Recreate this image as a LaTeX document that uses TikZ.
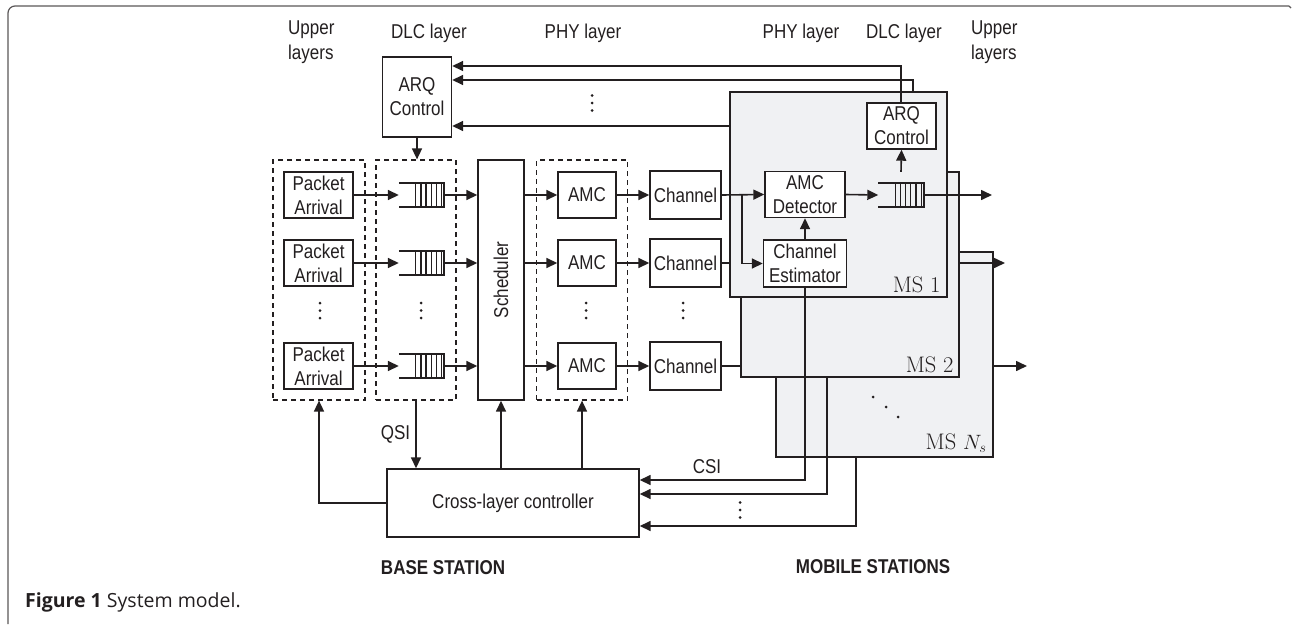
\documentclass[tikz,border=0pt]{standalone}
\usepackage{fontspec}
\usetikzlibrary{arrows.meta}
\newfontfamily\dfont[FakeStretch=0.85]{Liberation Sans}
\newfontfamily\capfont{Open Sans}
\definecolor{ink}{HTML}{231F20}
\definecolor{msfill}{HTML}{F0F1F3}
\newcommand\drawqueue[1]{%
  \draw[ink,line width=1.6pt] (#1.north west) -- (#1.north east) -- (#1.south east) -- (#1.south west);
  \foreach \k in {0,...,5}{\draw[ink,line width=1.3pt] ([xshift=-2.5pt-\k*5.2pt]#1.north east) -- ([xshift=-2.5pt-\k*5.2pt]#1.south east);}}
\newcommand\vdotsat[2]{\foreach \d in {-7.5,0,7.5}{\fill[ink] (#1,#2+\d) circle (1.5pt);}}
\begin{document}
\begin{tikzpicture}[x=1pt,y=-1pt,
  box/.style={draw=ink, line width=1.4pt, fill=white, inner sep=0pt, align=center, text=ink,
    font=\dfont\fontsize{20}{24}\selectfont},
  dbox/.style={draw=ink, line width=1.2pt, dash pattern=on 5pt off 4pt, inner sep=0pt},
  msbox/.style={draw=ink, line width=1.4pt, fill=msfill, inner sep=0pt},
  arr/.style={draw=ink, line width=1.6pt, -{Triangle[length=11pt,width=10pt]}},
  ln/.style={draw=ink, line width=1.6pt},
  lbl/.style={font=\dfont\fontsize{20}{25}\selectfont, text=ink, inner sep=0pt, align=center},
  blbl/.style={font=\dfont\bfseries\fontsize{20}{25}\selectfont, text=ink, inner sep=0pt},
  mslbl/.style={font=\fontsize{22.5}{26}\selectfont, text=ink, inner sep=0pt, anchor=base east},
  qnode/.style={minimum width=45pt, minimum height=24pt, inner sep=0pt}]
\useasboundingbox (0,0) rectangle (1292,624);
% frame
\draw[ink!75, line width=1.2pt, rounded corners=7pt] (8,624) -- (8,6) -- (1289,6);
\draw[ink!75, line width=1.2pt] (1289,6) -- (1291,8);
% layer labels
\node[lbl, align=left, anchor=north west] (ulL) at (288,21) {Upper\\layers};
\node[lbl] (dlcL) at (429,33) {DLC layer};
\node[lbl] (phyL) at (583,33) {PHY layer};
\node[lbl] (phyR) at (801,33) {PHY layer};
\node[lbl] (dlcR) at (904,33) {DLC layer};
\node[lbl, align=left, anchor=north west] (ulR) at (971,21) {Upper\\layers};
% base station dashed groups
\node[dbox, minimum width=92pt, minimum height=240pt] (d1) at (319,280) {};
\node[dbox, minimum width=80pt, minimum height=240pt] (d2) at (416,280) {};
\node[dbox, minimum width=91pt, minimum height=240pt] (d3) at (582,280) {};
\node[box, minimum width=46pt, minimum height=240pt] (sched) at (501,280) {};
\node[lbl, rotate=90] (schedT) at (501,280) {Scheduler};
\node[box, minimum width=69pt, minimum height=80pt] (arqbs) at (417,97) {ARQ\\Control};
% rows
\foreach \r/\y in {1/195,2/263,3/366}{
  \node[box, minimum width=69pt, minimum height=46pt] (pa\r) at (318.5,\y) {Packet\\Arrival};
  \node[qnode] (q\r) at (421.5,\y) {};
  \node[box, minimum width=58pt, minimum height=46pt] (amc\r) at (587,\y) {AMC};
  \node[box, minimum width=71pt, minimum height=48pt] (ch\r) at (685.5,\y) {Channel};
}
\foreach \r in {1,2,3}{
  \drawqueue{q\r}
  \draw[arr] (pa\r.east) -- (q\r.west);
  \draw[arr] (q\r.east) -- (q\r.east -| sched.west);
  \draw[arr] (amc\r.west -| sched.east) -- (amc\r.west);
  \draw[arr] (amc\r.east) -- (ch\r.west);
}
\vdotsat{320}{310.5}
\vdotsat{421}{310.5}
\vdotsat{586}{310.5}
\vdotsat{683}{310.5}
% controller
\node[box, minimum width=252pt, minimum height=68pt] (ctrl) at (513,503) {Cross-layer controller};
\draw[arr] (arqbs.south) -- (arqbs.south |- d2.north);
\draw[arr] (ctrl.west) -| (d1.south);
\draw[arr] (d2.south) -- node[lbl, left=5pt] (qsi) {QSI} (d2.south |- ctrl.north);
\draw[arr] (ctrl.north -| sched.south) -- (sched.south);
\draw[arr] (ctrl.north -| d3.south) -- (d3.south);
% mobile stations
\node[msbox, minimum width=217pt, minimum height=205pt] (msn) at (884.5,354.5) {};
\node[mslbl] (msnL) at ([xshift=-7pt,yshift=8pt]msn.south east) {MS $N_s$};
\node[msbox, minimum width=218pt, minimum height=205pt] (ms2) at (850,274.5) {};
\node[mslbl] (ms2L) at ([xshift=-6pt,yshift=5pt]ms2.south east) {MS 2};
\node[msbox, minimum width=217pt, minimum height=205pt] (ms1) at (838.5,194.5) {};
\node[mslbl] (ms1L) at ([xshift=-7pt,yshift=5pt]ms1.south east) {MS 1};
\foreach \x/\y in {873/397,886/407,898/417}{\fill[ink] (\x,\y) circle (1.5pt);}
\node[box, minimum width=80pt, minimum height=46pt] (amcdet) at (805,194.5) {AMC\\Detector};
\node[box, minimum width=83pt, minimum height=47pt] (chest) at (805,263.5) {Channel\\Estimator};
\node[box, minimum width=69pt, minimum height=46pt] (arqms) at (901.5,126) {ARQ\\Control};
\node[qnode] (qms) at (901,195) {};
\drawqueue{qms}
% channel to MS
\coordinate (br) at (742,195);
\draw[arr] (ch1.east) -- (amcdet.west);
\draw[arr] (br) |- (chest.west);
\draw[ln] (ch2.east) -- (ch2.east -| ms1.west);
\draw[ln] (ch3.east) -- (ch3.east -| ms2.west);
\draw[arr] (chest.north) -- (amcdet.south);
\draw[arr] (amcdet.east) -- (qms.west);
\draw[arr] ([yshift=11pt]qms.north) -- (arqms.south);
\coordinate (o1) at (992,195);
\coordinate (o2) at (1005,263);
\coordinate (o3) at (1027,366);
\draw[arr] (qms.east) -- (o1);
\draw[arr] (o2 -| ms2.east) -- (o2);
\draw[arr] (o3 -| msn.east) -- (o3);
% ARQ feedback
\coordinate (fb1) at (901,66);
\coordinate (fb2) at (913,80);
\coordinate (fb3) at (730,126);
\draw[arr] (fb1 |- arqms.north) -- (fb1) -- (fb1 -| arqbs.east);
\draw[arr] (fb2 |- ms1.north) -- (fb2) -- (fb2 -| arqbs.east);
\draw[arr] (fb3) -- (fb3 -| arqbs.east);
\vdotsat{592}{103}
% CSI feedback
\coordinate (c1) at (805,480);
\coordinate (c2) at (827,494);
\coordinate (c3) at (856,526);
\draw[arr] (chest.south) -- (c1) -- (c1 -| ctrl.east);
\draw[arr] (c2 |- ms2.south) -- (c2) -- (c2 -| ctrl.east);
\draw[arr] (c3 |- msn.south) -- (c3) -- (c3 -| ctrl.east);
\node[lbl] (csi) at (707,467) {CSI};
\vdotsat{740}{510}
% station labels
\node[blbl] (bs) at (443,568) {BASE STATION};
\node[blbl] (ms) at (873,567) {MOBILE STATIONS};
% caption
\node[anchor=base west, inner sep=0pt, text=ink, font=\capfont\fontsize{19.5}{23}\selectfont] (cap) at (25,607) {\textbf{Figure 1} System model.};
\end{tikzpicture}
\end{document}
